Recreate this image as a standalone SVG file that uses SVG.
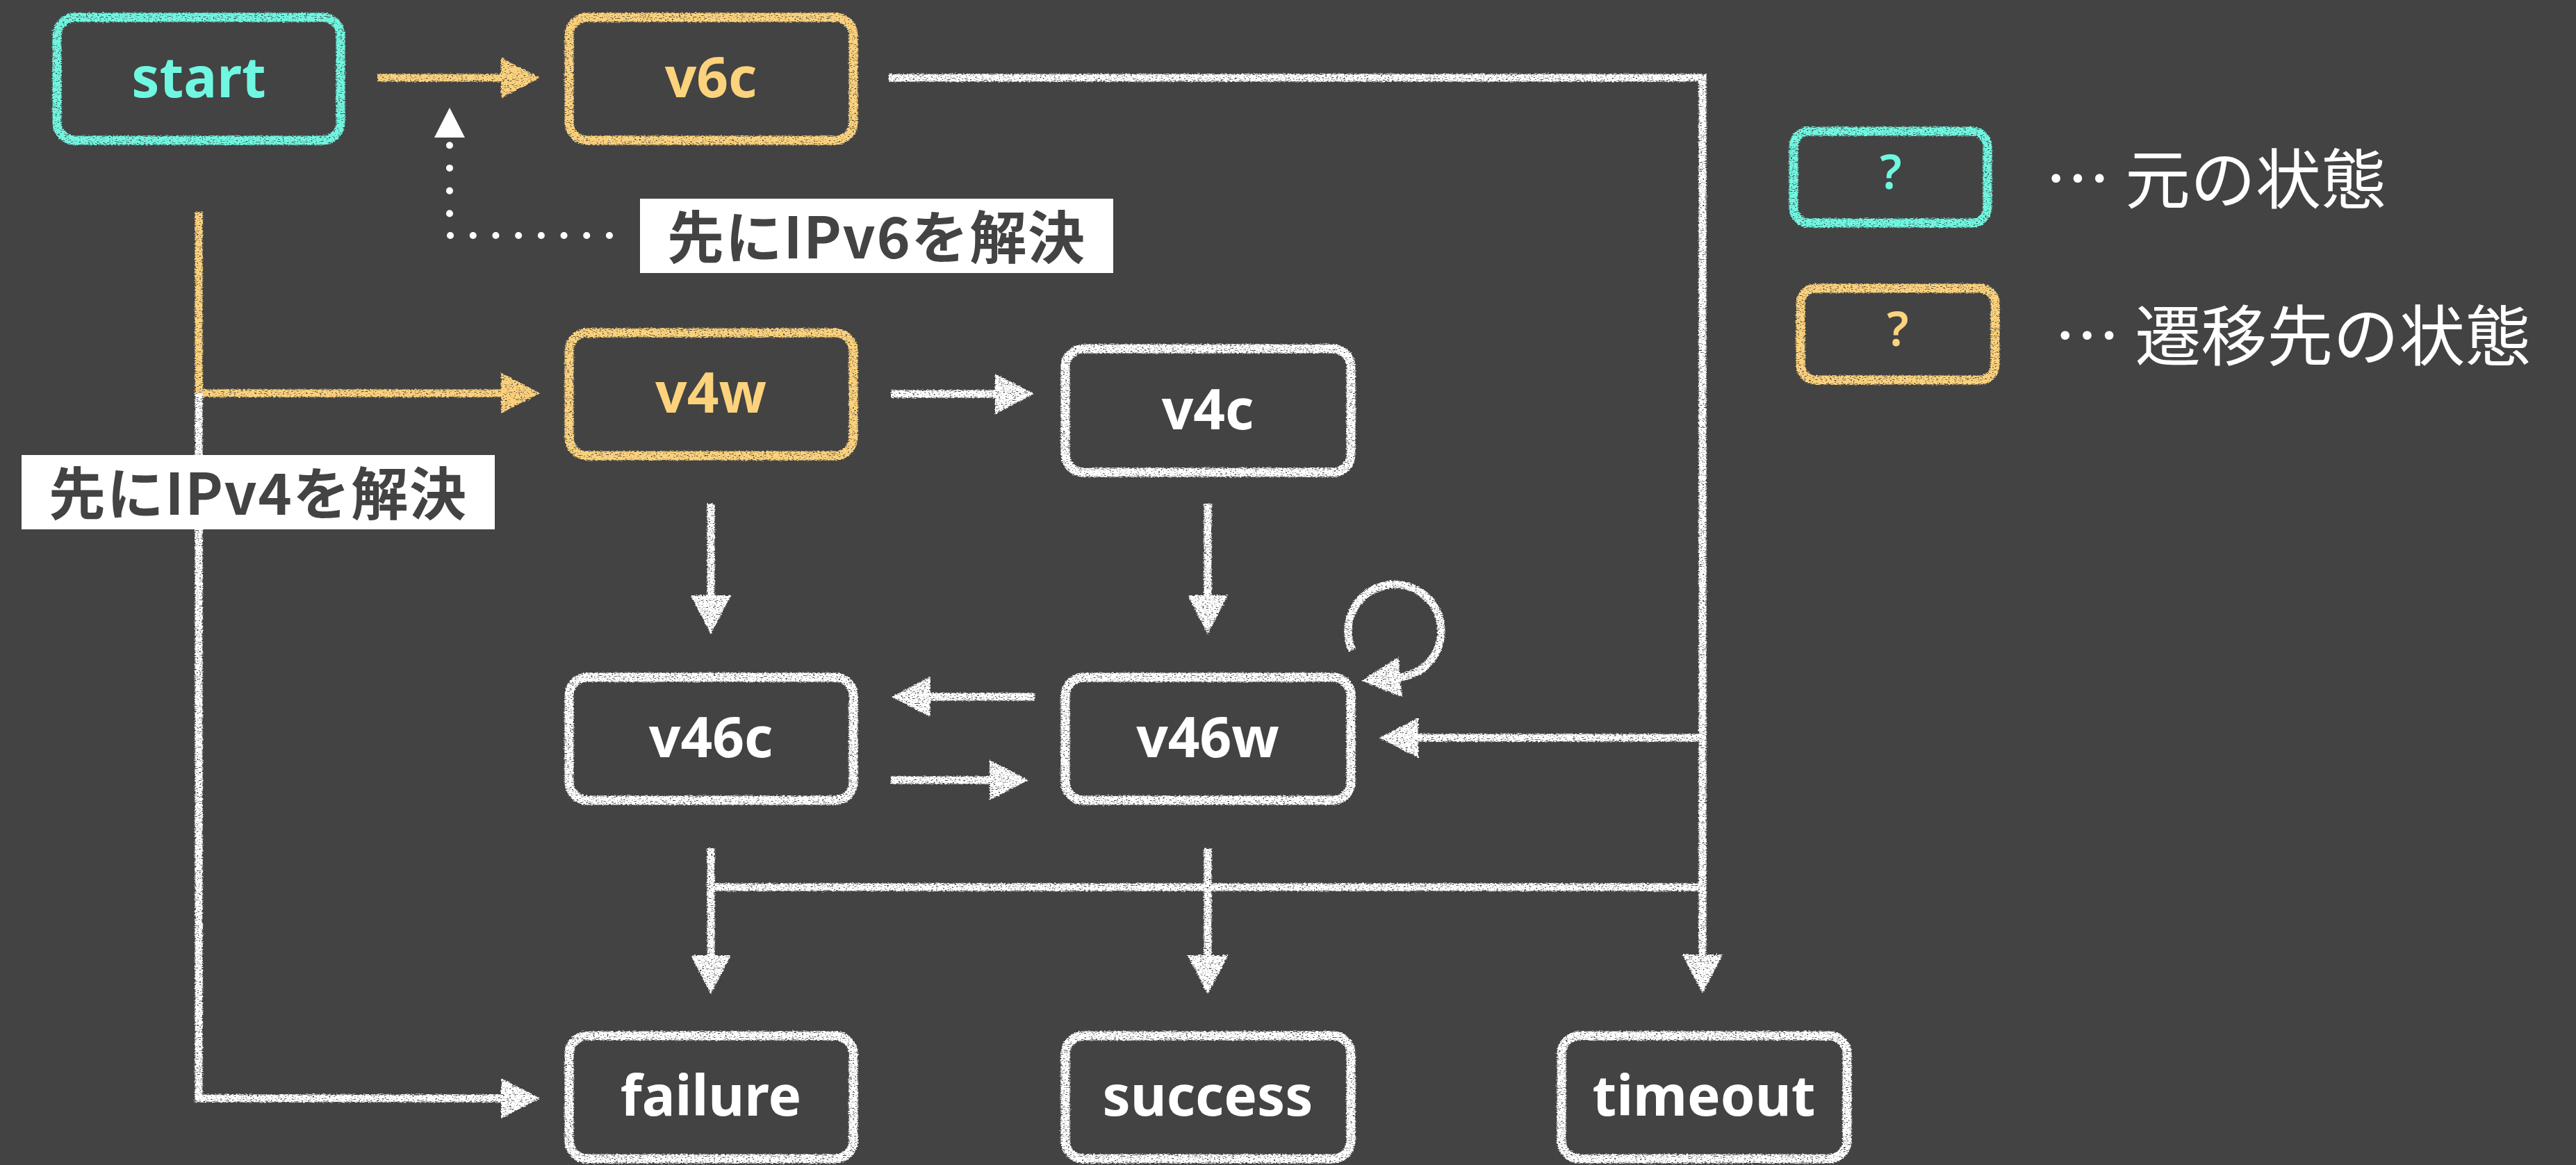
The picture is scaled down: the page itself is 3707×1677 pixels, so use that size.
<svg xmlns="http://www.w3.org/2000/svg" width="3707" height="1677" viewBox="0 0 3707 1677">
  <defs>
    <style>
      .box { fill: none; stroke-width: 13; filter: url(#chalkBox); }
      .w { stroke: #ffffff; }
      .c { stroke: #6ff7e1; }
      .o { stroke: #fdd27c; }
      .lbl { font-family: "Noto Sans", "Liberation Sans", sans-serif; font-weight: 700; font-size: 80px; text-anchor: middle; }
      .tw { fill: #ffffff; }
      .tc { fill: #6ff7e1; }
      .to { fill: #fdd27c; }
      .wire { fill: none; stroke-width: 11; stroke-linejoin: miter; }
      .note { font-family: "Noto Sans CJK JP", "Noto Sans", sans-serif; font-weight: 700; font-size: 82px; fill: #434343; }
      .legend { font-family: "Noto Sans CJK JP", "Noto Sans", sans-serif; font-weight: 400; fill: #ffffff; }
      .q { font-family: "Noto Sans", "Liberation Sans", sans-serif; font-weight: 600; font-size: 68px; text-anchor: middle; }
    </style>
    <!-- chalk texture: rough edges plus small gaps in the strokes -->
    <filter id="chalkBox" x="-4%" y="-8%" width="108%" height="116%">
      <feTurbulence type="fractalNoise" baseFrequency="0.3 0.9" numOctaves="2" seed="7" result="n"/>
      <feDisplacementMap in="SourceGraphic" in2="n" scale="5" xChannelSelector="R" yChannelSelector="G" result="d"/>
      <feColorMatrix in="n" type="matrix" values="0 0 0 0 0  0 0 0 0 0  0 0 0 0 0  0 0 0 -6 4.5" result="m"/>
      <feComposite in="d" in2="m" operator="in"/>
    </filter>
    <filter id="chalkWire" filterUnits="userSpaceOnUse" x="0" y="0" width="3707" height="1677">
      <feTurbulence type="fractalNoise" baseFrequency="0.3 0.9" numOctaves="2" seed="3" result="n"/>
      <feDisplacementMap in="SourceGraphic" in2="n" scale="5" xChannelSelector="R" yChannelSelector="G" result="d"/>
      <feColorMatrix in="n" type="matrix" values="0 0 0 0 0  0 0 0 0 0  0 0 0 0 0  0 0 0 -6 4.5" result="m"/>
      <feComposite in="d" in2="m" operator="in"/>
    </filter>
    <marker id="ahW" markerUnits="userSpaceOnUse" viewBox="0 -32 60 64" markerWidth="60" markerHeight="64" refX="2" refY="0" orient="auto" overflow="visible">
      <path d="M0,-29 L56,0 L0,29 Z" fill="#ffffff"/>
    </marker>
    <marker id="ahO" markerUnits="userSpaceOnUse" viewBox="0 -32 60 64" markerWidth="60" markerHeight="64" refX="2" refY="0" orient="auto" overflow="visible">
      <path d="M0,-29 L56,0 L0,29 Z" fill="#fdd27c"/>
    </marker>
  </defs>

  <rect x="0" y="0" width="3707" height="1677" fill="#434343"/>

  <!-- connectors -->
  <g id="connectors">
    <g filter="url(#chalkWire)">
      <path class="wire o" d="M543,112 H723" marker-end="url(#ahO)"/>
      <path class="wire o" d="M286,305 V566 H723" marker-end="url(#ahO)"/>
      <path class="wire w" d="M286,566 V1581 H723" marker-end="url(#ahW)"/>
      <path class="wire w" d="M1279,112 H2450 V1376" marker-end="url(#ahW)"/>
      <path class="wire w" d="M2450,1062 H2039" marker-end="url(#ahW)"/>
      <path class="wire w" d="M1023,1277 H2450"/>
      <path class="wire w" d="M1023,1221 V1377" marker-end="url(#ahW)"/>
      <path class="wire w" d="M1738,1221 V1377" marker-end="url(#ahW)"/>
      <path class="wire w" d="M1282,567 H1434" marker-end="url(#ahW)"/>
      <path class="wire w" d="M1023,725 V859" marker-end="url(#ahW)"/>
      <path class="wire w" d="M1738,725 V859" marker-end="url(#ahW)"/>
      <path class="wire w" d="M1489,1003 H1337" marker-end="url(#ahW)"/>
      <path class="wire w" d="M1282,1123 H1426" marker-end="url(#ahW)"/>
      <!-- v46w self loop -->
      <path class="wire w" d="M1946,936 A67,67 0 1 1 2013,975" marker-end="url(#ahW)"/>
    </g>
    <!-- dotted pointer to the v6c route -->
    <g id="hint6">
      <path d="M877,339 H647 V205" fill="none" stroke="#ffffff" stroke-width="10" stroke-linecap="round" stroke-dasharray="0.1 32.6"/>
      <path d="M647,155 L669,198 L625,198 Z" fill="#ffffff"/>
    </g>
  </g>

  <!-- notes -->
  <g id="note-v6">
    <rect x="921" y="286" width="681" height="107" fill="#ffffff"/>
    <text class="note" x="960" y="372" textLength="601" lengthAdjust="spacing">先にIPv6を解決</text>
  </g>
  <g id="note-v4">
    <rect x="31" y="655" width="681" height="107" fill="#ffffff"/>
    <text class="note" x="70" y="741" textLength="601" lengthAdjust="spacing">先にIPv4を解決</text>
  </g>

  <!-- states -->
  <g id="start">
    <rect class="box c" x="82" y="25" width="408" height="177" rx="26"/>
    <text class="lbl tc" x="286" y="140">start</text>
  </g>
  <g id="v6c">
    <rect class="box o" x="819" y="25" width="409" height="177" rx="26"/>
    <text class="lbl to" x="1023" y="140">v6c</text>
  </g>
  <g id="v4w">
    <rect class="box o" x="819" y="479" width="409" height="177" rx="26"/>
    <text class="lbl to" x="1023" y="594">v4w</text>
  </g>
  <g id="v4c">
    <rect class="box w" x="1533" y="502" width="411" height="178" rx="26"/>
    <text class="lbl tw" x="1738" y="618">v4c</text>
  </g>
  <g id="v46c">
    <rect class="box w" x="819" y="975" width="409" height="177" rx="26"/>
    <text class="lbl tw" x="1023" y="1090">v46c</text>
  </g>
  <g id="v46w">
    <rect class="box w" x="1533" y="975" width="411" height="177" rx="26"/>
    <text class="lbl tw" x="1738" y="1090">v46w</text>
  </g>
  <g id="failure">
    <rect class="box w" x="819" y="1491" width="409" height="177" rx="26"/>
    <text class="lbl tw" x="1023" y="1606">failure</text>
  </g>
  <g id="success">
    <rect class="box w" x="1533" y="1491" width="411" height="177" rx="26"/>
    <text class="lbl tw" x="1738" y="1606">success</text>
  </g>
  <g id="timeout">
    <rect class="box w" x="2247" y="1491" width="411" height="177" rx="26"/>
    <text class="lbl tw" x="2452" y="1606">timeout</text>
  </g>

  <!-- legend -->
  <g id="legend-source">
    <rect class="box c" x="2581" y="189" width="279" height="132" rx="22"/>
    <text class="q tc" x="2721" y="272">?</text>
    <text class="legend" x="2943" y="293" font-size="94">… 元の状態</text>
  </g>
  <g id="legend-target">
    <rect class="box o" x="2591" y="415" width="280" height="132" rx="22"/>
    <text class="q to" x="2731" y="498">?</text>
    <text class="legend" x="2956" y="519" font-size="95">… 遷移先の状態</text>
  </g>
</svg>
